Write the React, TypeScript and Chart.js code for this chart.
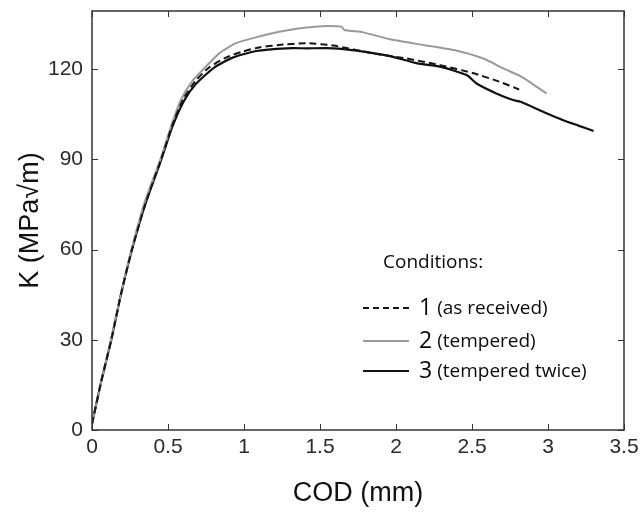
import React, { useEffect, useRef } from 'react';
import { Chart, registerables } from 'chart.js';

Chart.register(...registerables);

// ---- axis ticks ----
const xTicks = [0, 0.5, 1, 1.5, 2, 2.5, 3, 3.5];
const yTicks = [0, 30, 60, 90, 120];

// ---- series 1 (as received), dashed ----
const cod1 = [0, 0.06, 0.127, 0.19, 0.263, 0.35, 0.455, 0.53, 0.6, 0.68, 0.77, 0.88, 0.99, 1.1, 1.23, 1.41, 1.59, 1.85, 2.07, 2.29, 2.51, 2.68, 2.81];
const k1 = [2, 16, 30, 45, 60, 75, 90, 101.5, 110, 116, 120.5, 123.8, 125.8, 127.2, 128, 128.6, 127.8, 125.2, 123.5, 121.3, 118.6, 115.8, 113.2];

// ---- series 2 (tempered), gray ----
const cod2 = [0, 0.06, 0.125, 0.19, 0.26, 0.345, 0.45, 0.52, 0.584, 0.66, 0.749, 0.837, 0.947, 1.1, 1.23, 1.366, 1.467, 1.55, 1.64, 1.66, 1.785, 1.96, 2.18, 2.4, 2.575, 2.706, 2.816, 2.9, 2.99];
const k2 = [2, 16, 30, 45, 60, 75.5, 90, 101, 109.7, 116, 120.8, 125.2, 128.6, 130.8, 132.4, 133.6, 134.1, 134.3, 134.1, 133, 132.2, 129.9, 128, 126.1, 123.5, 120.2, 117.7, 115, 111.9];

// ---- series 3 (tempered twice), black ----
const cod3 = [0, 0.06, 0.127, 0.19, 0.263, 0.35, 0.456, 0.53, 0.606, 0.683, 0.804, 0.925, 1.08, 1.28, 1.41, 1.59, 1.74, 1.96, 2.14, 2.29, 2.465, 2.53, 2.66, 2.77, 2.82, 2.99, 3.1, 3.2, 3.3];
const k3 = [2, 16, 30, 45, 60, 75, 90, 101, 109.5, 115, 120.5, 123.8, 126, 126.9, 126.9, 126.9, 126.1, 124.3, 121.9, 120.8, 118, 115.2, 111.9, 109.7, 109.1, 105.3, 103, 101.2, 99.4];

const seriesNumbers = ['1', '2', '3'];
const seriesNotes = ['(as received)', '(tempered)', '(tempered twice)'];
const legendTitle = 'Conditions:';
const xTitle = 'COD (mm)';
const yTitle = 'K (MPa\u221Am)';

const toPoints = (xs: number[], ys: number[]) => xs.map((x, i) => ({ x, y: ys[i] }));

const framePlugin = {
  id: 'frameAndInnerTicks',
  afterDatasetsDraw(chart: any) {
    const { ctx, chartArea, scales } = chart;
    const { left, right, top, bottom } = chartArea;
    const len = 6;
    ctx.save();
    ctx.strokeStyle = '#333';
    ctx.lineWidth = 1;
    ctx.beginPath();
    xTicks.forEach((v) => {
      const px = Math.round(scales.x.getPixelForValue(v)) + 0.5;
      ctx.moveTo(px, bottom); ctx.lineTo(px, bottom - len);
      ctx.moveTo(px, top); ctx.lineTo(px, top + len);
    });
    yTicks.forEach((v) => {
      const py = Math.round(scales.y.getPixelForValue(v)) + 0.5;
      ctx.moveTo(left, py); ctx.lineTo(left + len, py);
      ctx.moveTo(right, py); ctx.lineTo(right - len, py);
    });
    ctx.stroke();
    ctx.lineWidth = 1.5;
    ctx.strokeRect(left, top, right - left, bottom - top);
    ctx.restore();
  },
};

const legendPlugin = {
  id: 'conditionsLegend',
  afterDraw(chart: any) {
    const { ctx } = chart;
    const ds = chart.data.datasets;
    const rowsY = [308, 341, 371];
    const lineX0 = 363;
    const lineX1 = 409;
    const textX = 419;
    ctx.save();
    ctx.fillStyle = '#0a0a0a';
    ctx.textBaseline = 'middle';
    ctx.textAlign = 'left';
    ctx.font = '19px "Open Sans"';
    ctx.fillText(legendTitle, 383, 263);
    ds.forEach((d: any, i: number) => {
      const y = rowsY[i];
      ctx.save();
      ctx.strokeStyle = d.borderColor;
      ctx.lineWidth = d.borderWidth;
      ctx.setLineDash(d.borderDash ? [6, 4] : []);
      ctx.beginPath();
      ctx.moveTo(lineX0, y);
      ctx.lineTo(lineX1, y);
      ctx.stroke();
      ctx.restore();
      ctx.font = '23px "Open Sans"';
      ctx.fillText(seriesNumbers[i], textX, y);
      const w = ctx.measureText(seriesNumbers[i] + ' ').width;
      ctx.font = '19px "Open Sans"';
      ctx.fillText(seriesNotes[i], textX + w - 1, y + 1);
    });
    ctx.restore();
  },
};

export default function App() {
  const ref = useRef<HTMLCanvasElement | null>(null);
  useEffect(() => {
    if (!ref.current) return;
    const tickFont = { family: '"Liberation Sans", Arial, sans-serif', size: 21 };
    const titleFont = { family: '"Liberation Sans", Arial, sans-serif', size: 27 };
    const chart = new Chart(ref.current, {
      type: 'scatter',
      data: {
        datasets: [
          {
            label: `${seriesNumbers[0]} ${seriesNotes[0]}`,
            data: toPoints(cod1, k1),
            showLine: true,
            borderColor: '#151515',
            borderWidth: 2,
            borderDash: [7, 4],
            pointRadius: 0,
            tension: 0.2,
          },
          {
            label: `${seriesNumbers[1]} ${seriesNotes[1]}`,
            data: toPoints(cod2, k2),
            showLine: true,
            borderColor: '#9a9a9a',
            borderWidth: 2,
            pointRadius: 0,
            tension: 0.2,
          },
          {
            label: `${seriesNumbers[2]} ${seriesNotes[2]}`,
            data: toPoints(cod3, k3),
            showLine: true,
            borderColor: '#111',
            borderWidth: 2.2,
            pointRadius: 0,
            tension: 0.2,
          },
        ],
      },
      options: {
        animation: false,
        responsive: false,
        layout: { padding: { top: 11, right: 19, left: 0, bottom: 0 } },
        plugins: { legend: { display: false }, tooltip: { enabled: false } },
        scales: {
          x: {
            type: 'linear',
            min: 0,
            max: 3.5,
            grid: { display: false, drawTicks: false },
            border: { display: false },
            afterBuildTicks: (s: any) => { s.ticks = xTicks.map((v) => ({ value: v })); },
            afterFit: (s: any) => { s.height = 82; s.paddingLeft = 0; s.paddingRight = 0; },
            ticks: { font: tickFont, color: '#2a2a2a', padding: 5, maxRotation: 0, autoSkip: false, callback: (v: any) => String(v) },
            title: { display: true, text: xTitle, font: titleFont, color: '#111', padding: { top: 0, bottom: 2 } },
          },
          y: {
            type: 'linear',
            min: 0,
            max: 139.3,
            grid: { display: false, drawTicks: false },
            border: { display: false },
            afterBuildTicks: (s: any) => { s.ticks = yTicks.map((v) => ({ value: v })); },
            afterFit: (s: any) => { s.width = 92; s.paddingTop = 0; s.paddingBottom = 0; },
            ticks: { font: tickFont, color: '#2a2a2a', padding: 9, autoSkip: false, callback: (v: any) => String(v) },
            title: { display: true, text: yTitle, font: titleFont, color: '#111', padding: { top: 14, bottom: 0 } },
          },
        },
      },
      plugins: [framePlugin, legendPlugin],
    });
    return () => chart.destroy();
  }, []);
  return (
    <div style={{ position: 'absolute', left: 0, top: 0, width: 643, height: 512, background: '#fff' }}>
      <canvas ref={ref} width={643} height={512} />
    </div>
  );
}
